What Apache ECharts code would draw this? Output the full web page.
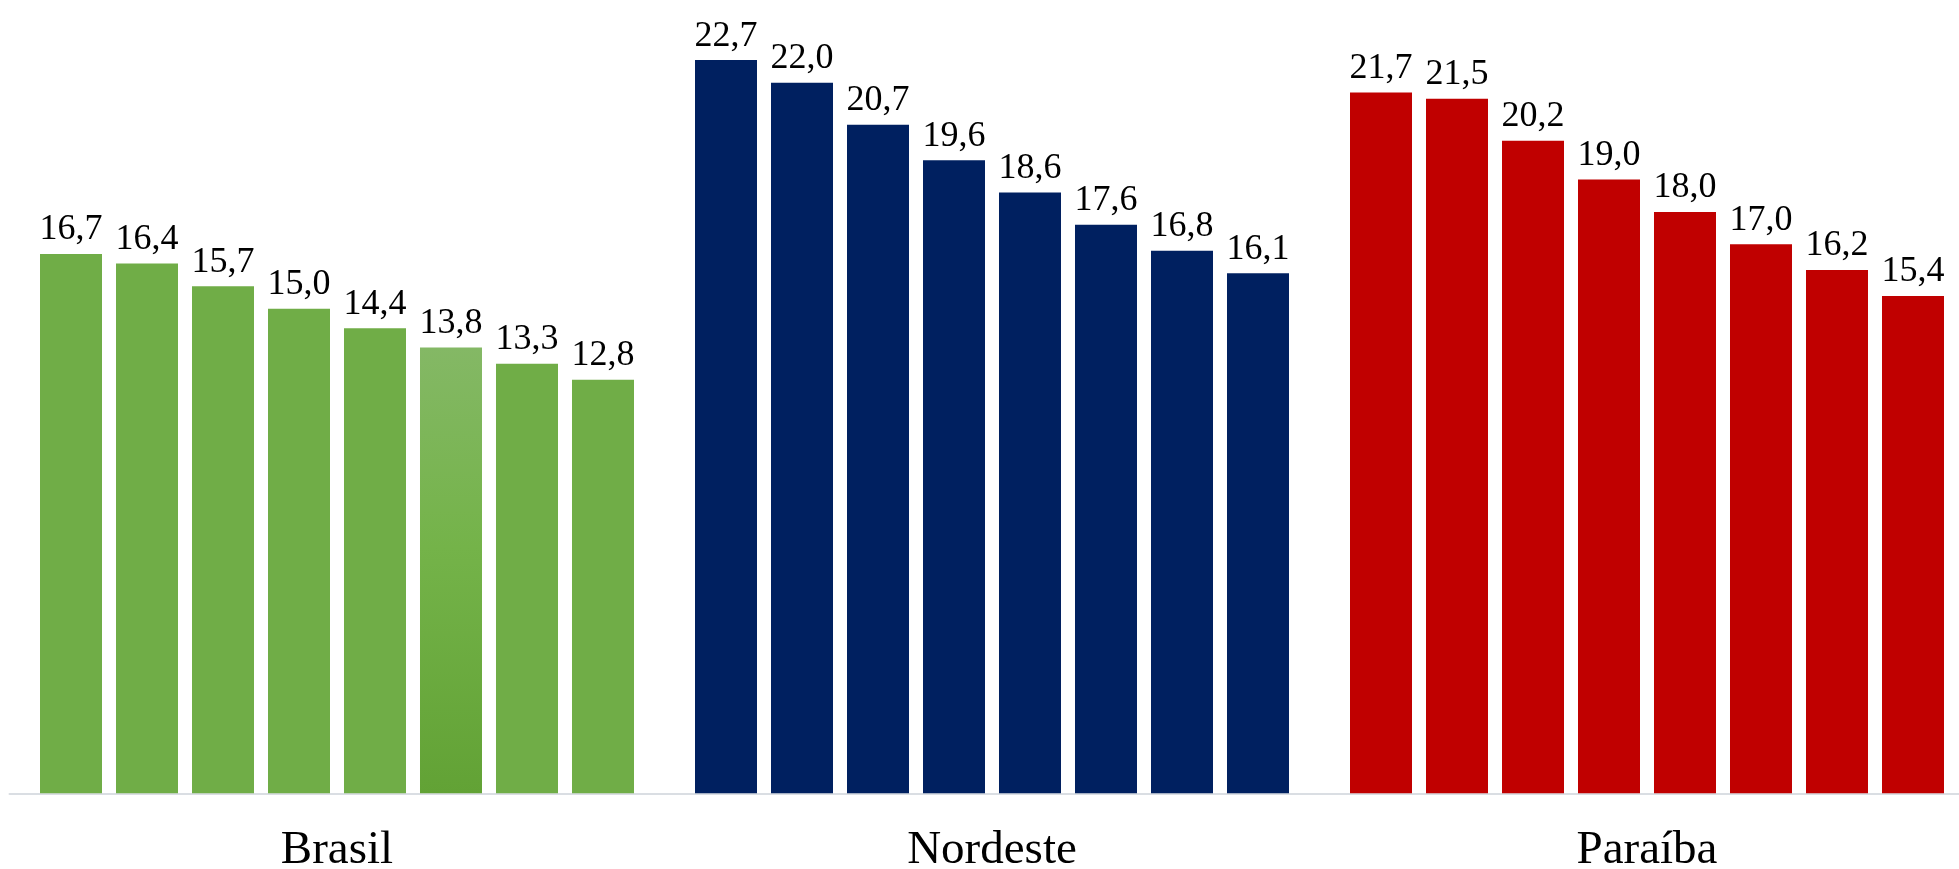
<!DOCTYPE html>
<html>
<head>
<meta charset="utf-8">
<script src="https://cdn.jsdelivr.net/npm/echarts@6/dist/echarts.min.js"></script>
<style>
html,body{margin:0;padding:0;background:#fff;overflow:hidden;}
#chart{width:1959px;height:869px;}
</style>
</head>
<body>
<div id="chart"></div>
<script>
const categories = ['Brasil', 'Nordeste', 'Paraíba'];
const brasil = [16.7, 16.4, 15.7, 15.0, 14.4, 13.8, 13.3, 12.8];
const nordeste = [22.7, 22.0, 20.7, 19.6, 18.6, 17.6, 16.8, 16.1];
const paraiba = [21.7, 21.5, 20.2, 19.0, 18.0, 17.0, 16.2, 15.4];

const colors = ['#70AD47', '#002060', '#C00000'];
const gradientGreen = {
  type: 'linear', x: 0, y: 0, x2: 0, y2: 1,
  colorStops: [
    {offset: 0, color: '#84b865'},
    {offset: 0.45, color: '#74b349'},
    {offset: 1, color: '#62a235'}
  ]
};
const serif = "'Liberation Serif', 'Times New Roman', serif";

const groups = [brasil, nordeste, paraiba];
const series = [];
for (let i = 0; i < brasil.length; i++) {
  series.push({
    type: 'bar',
    barWidth: 62,
    barGap: '22.58%',
    data: groups.map((g, gi) => ({
      value: g[i],
      itemStyle: {color: (gi === 0 && i === 5) ? gradientGreen : colors[gi]}
    })),
    label: {
      show: true,
      position: 'top',
      distance: 6,
      fontFamily: serif,
      fontSize: 36,
      color: '#000',
      formatter: p => p.value.toFixed(1).replace('.', ',')
    },
    emphasis: {disabled: true}
  });
}

const chart = echarts.init(document.getElementById('chart'));
chart.setOption({
  animation: false,
  grid: {left: 9.5, right: -15.5, top: 18.1, bottom: 75.7, containLabel: false, outerBoundsMode: 'none'},
  xAxis: {
    type: 'category',
    data: categories,
    axisLine: {lineStyle: {color: '#dadee3', width: 2}},
    axisTick: {show: false},
    axisLabel: {fontFamily: serif, fontSize: 47, color: '#000', margin: 34}
  },
  yAxis: {
    type: 'value', min: 0, max: 24, show: false,
    splitLine: {show: false}
  },
  series: series
});
</script>
</body>
</html>
